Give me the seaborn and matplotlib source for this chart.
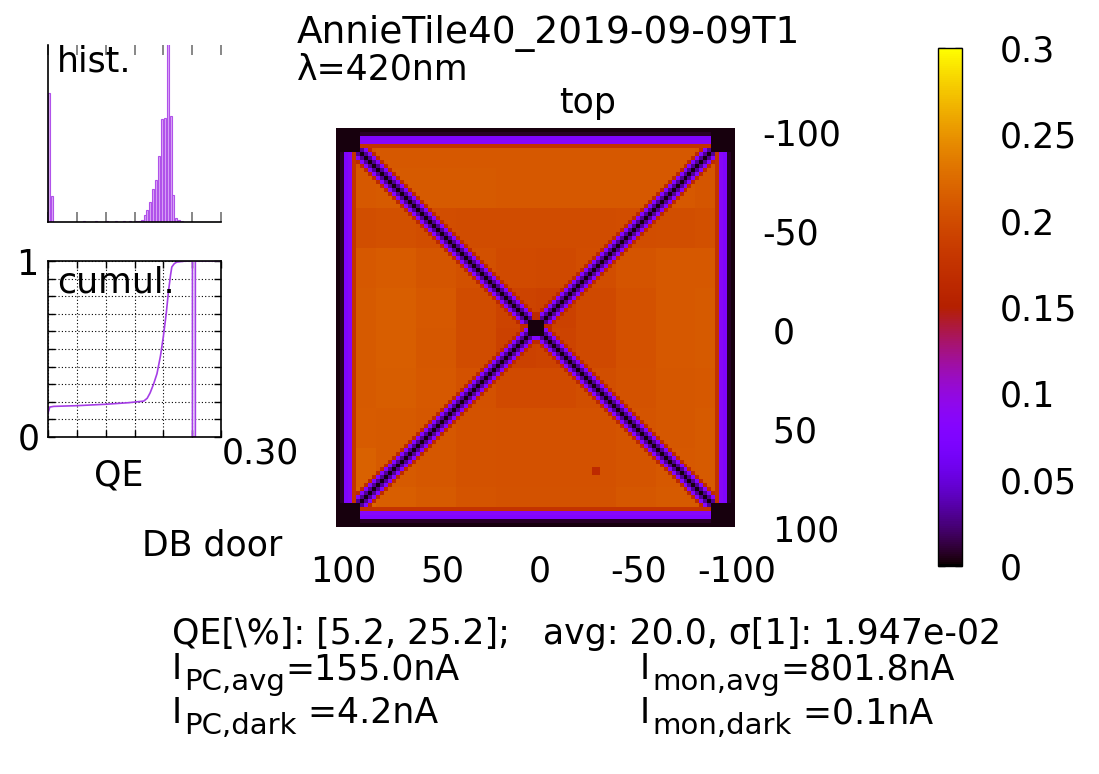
import matplotlib
matplotlib.use("Agg")
import matplotlib.pyplot as plt
import numpy as np
import pandas as pd
import seaborn as sns

sns.set_style("white")
plt.rcParams["font.family"] = ["DejaVu Sans"]
plt.rcParams["font.size"] = 25
plt.rcParams.update({"text.color": "black", "xtick.color": "black",
                     "ytick.color": "black", "axes.edgecolor": "black"})

# ---- values ----
title = "AnnieTile40_2019-09-09T1"
wavelength = "λ=420nm"

# scan area in mm, 100 x 100 cells, x runs from right (100) to left (-100)
n_cells = 100
x_left, x_right = 103.8, -99.2
y_top, y_bottom = -101.8, 99.7
x_ticks = [100, 50, 0, -50, -100]
y_ticks = [-100, -50, 0, 50, 100]

# coarse QE background, 10x10 blocks (top row first, left column first)
bg_grid = [
    [0.208, 0.210, 0.210, 0.210, 0.210, 0.210, 0.210, 0.210, 0.210, 0.208],
    [0.210, 0.212, 0.212, 0.212, 0.210, 0.210, 0.210, 0.210, 0.210, 0.208],
    [0.202, 0.203, 0.201, 0.200, 0.200, 0.200, 0.200, 0.201, 0.202, 0.203],
    [0.210, 0.213, 0.208, 0.203, 0.199, 0.198, 0.201, 0.207, 0.210, 0.210],
    [0.212, 0.215, 0.210, 0.200, 0.192, 0.190, 0.197, 0.205, 0.210, 0.211],
    [0.212, 0.215, 0.209, 0.200, 0.191, 0.192, 0.198, 0.205, 0.210, 0.211],
    [0.211, 0.214, 0.210, 0.204, 0.199, 0.199, 0.202, 0.206, 0.209, 0.210],
    [0.213, 0.212, 0.209, 0.206, 0.204, 0.204, 0.205, 0.207, 0.209, 0.211],
    [0.217, 0.212, 0.209, 0.206, 0.205, 0.204, 0.205, 0.207, 0.210, 0.212],
    [0.220, 0.215, 0.211, 0.207, 0.206, 0.206, 0.206, 0.209, 0.212, 0.212],
]
edge_profile = [0.003, 0.008, 0.075, 0.085, 0.175]           # frame, from the edge inwards
diag_profile = [0.165, 0.08, 0.03, 0.003, 0.03, 0.08, 0.165]  # across a diagonal, offsets -3..3
corner_size, corner_qe = 6, 0.003
centre_size, centre_qe = 4, 0.003
spot_rows, spot_cols, spot_qe = [85, 86], [64, 65], 0.165

# histogram (bin centres, heights)
hist_qe = [0.0025, 0.0075, 0.0625, 0.0825, 0.1025, 0.1175, 0.1325, 0.1425, 0.1525,
           0.1575, 0.1625, 0.1675, 0.1725, 0.1775, 0.1825, 0.1875, 0.1925, 0.1975,
           0.2025, 0.2075, 0.2125, 0.2175, 0.2225, 0.2275, 0.2325]
hist_n = [128, 26, 0.6, 0.6, 0.8, 0.6, 0.8, 0.8, 1.0,
          1.2, 1.7, 7, 11.7, 20.3, 32.7, 41.7, 66, 102,
          103.3, 250, 105.7, 26.7, 3.7, 2, 0.7]

# cumulative
cum_qe = [0.0, 0.003, 0.01, 0.05, 0.1, 0.14, 0.166, 0.172, 0.177, 0.183, 0.189, 0.195,
          0.2, 0.205, 0.209, 0.2125, 0.2147, 0.219, 0.2234, 0.24, 0.2505, 0.2505,
          0.2555, 0.2555, 0.3]
cum_frac = [0.135, 0.17, 0.174, 0.178, 0.186, 0.195, 0.204, 0.22, 0.25, 0.3, 0.36, 0.46,
            0.57, 0.7, 0.83, 0.92, 0.966, 0.985, 0.994, 1.0, 1.0, 0.0,
            0.0, 1.0, 1.0]

cbar_ticks = [0, 0.05, 0.1, 0.15, 0.2, 0.25, 0.3]
cbar_labels = ["0", "0.05", "0.1", "0.15", "0.2", "0.25", "0.3"]

stats_line = "QE[\\%]: [5.2, 25.2];   avg: 20.0, σ[1]: 1.947e-02"
currents = [
    (172, 679, "PC,avg", "=155.0nA"),
    (172, 723, "PC,dark", " =4.2nA"),
    (640, 679, "mon,avg", "=801.8nA"),
    (640, 723, "mon,dark", " =0.1nA"),
]

# ---- build the QE map ----
block = n_cells // len(bg_grid)
qe = np.kron(np.array(bg_grid), np.ones((block, block)))
rr, cc = np.indices(qe.shape)
half = len(diag_profile) // 2
for k, v in enumerate(diag_profile):
    off = k - half
    qe[cc - rr == off] = v
    qe[cc + rr - (n_cells - 1) == -off] = v
c0 = n_cells // 2 - centre_size // 2
qe[c0:c0 + centre_size, c0:c0 + centre_size] = centre_qe
dist = np.minimum.reduce([rr, cc, n_cells - 1 - rr, n_cells - 1 - cc])
for k, v in enumerate(edge_profile):
    qe[dist == k] = v
corner = ((rr < corner_size) | (rr >= n_cells - corner_size)) & \
         ((cc < corner_size) | (cc >= n_cells - corner_size))
qe[corner] = corner_qe
qe[np.ix_(spot_rows, spot_cols)] = spot_qe

hist_df = pd.DataFrame({"qe": hist_qe, "n": hist_n})

W, H = 1099, 774
def box(x0, y0, x1, y1):
    return [x0 / W, 1 - y1 / H, (x1 - x0) / W, (y1 - y0) / H]

fig = plt.figure(figsize=(W / 100, H / 100), dpi=100)

# ---- main map ----
ax = fig.add_axes(box(336, 128, 737, 528))
cax = fig.add_axes(box(938, 48, 962, 566))
sns.heatmap(qe, ax=ax, cmap="gnuplot", vmin=0, vmax=0.3, cbar_ax=cax,
            xticklabels=False, yticklabels=False, rasterized=True)
cw = (x_left - x_right) / n_cells
ch = (y_bottom - y_top) / n_cells
ax.set_xticks([(x_left - v) / cw for v in x_ticks])
ax.set_xticklabels([str(v) for v in x_ticks])
ax.yaxis.tick_right()
ax.set_yticks([(v - y_top) / ch for v in y_ticks])
ax.set_yticklabels([f"{v: d}" for v in y_ticks])
for lbl in ax.get_yticklabels():
    lbl.set_ha("left")
ax.tick_params(axis="x", length=0, pad=19)
ax.tick_params(axis="y", length=0, pad=18)

cb = ax.collections[0].colorbar
cb.outline.set_linewidth(1)
cb.outline.set_edgecolor("black")
cb.set_ticks(cbar_ticks)
cb.set_ticklabels(cbar_labels)
cax.tick_params(direction="in", length=5, width=1, color="0.15",
                left=True, right=True, pad=27)

# ---- histogram inset ----
ax1 = fig.add_axes(box(48, 45, 221, 222))
sns.histplot(data=hist_df, x="qe", weights="n", binwidth=0.005, binrange=(0, 0.3),
             shrink=0.7, color="#dba8f7", edgecolor="#b052ea", linewidth=0.8,
             alpha=1, ax=ax1)
ax1.set_xlim(0, 0.3)
ax1.set_ylim(0, 176)
ax1.set(xlabel="", ylabel="")
ax1.set_xticks(np.arange(0, 0.301, 0.05))
ax1.set_yticks([])
ax1.tick_params(axis="x", direction="in", length=7, width=1.2, color="0.45",
                top=True, bottom=True, labelbottom=False)
for s in ["top", "right"]:
    ax1.spines[s].set_visible(False)
for s in ["left", "bottom"]:
    ax1.spines[s].set_linewidth(1.2)
ax1.text(0.05, 0.905, "hist.", transform=ax1.transAxes, ha="left", va="center")

# ---- cumulative inset ----
ax2 = fig.add_axes(box(48, 261, 221, 437))
sns.lineplot(x=cum_qe, y=cum_frac, sort=False, estimator=None, color="#a53ee6",
             linewidth=1.2, ax=ax2)
ax2.set_xlim(0, 0.3)
ax2.set_ylim(0, 1)
ax2.set_xticks(np.arange(0, 0.301, 0.05))
ax2.set_yticks(np.arange(0, 1.001, 0.1))
ax2.grid(True, linestyle=(0, (1, 2)), color="black", linewidth=0.8)
ax2.tick_params(direction="in", length=5, width=1, top=True, right=True,
                left=True, bottom=True, labelbottom=False, labelleft=False)
for s in ax2.spines.values():
    s.set_linewidth(1.2)
ax2.text(0.05, 0.88, "cumul.", transform=ax2.transAxes, ha="left", va="center")

# ---- free text ----
def put(x, y, s, ha="left", size=25):
    return fig.text(x / W, 1 - y / H, s, ha=ha, va="baseline", fontsize=size)

put(297, 43, title, size=27)
put(297, 80, wavelength)
put(588, 113, "top", ha="center")
put(212, 555, "DB door", ha="center")
put(38, 275, "1", ha="right")
put(40, 449, "0", ha="right")
put(222, 464, "0.30")
put(119, 486, "QE", ha="center")
put(172, 644, stats_line)

renderer = fig.canvas.get_renderer()
for x, y, sub, rest in currents:
    t = put(x, y, "I")
    x_sub = t.get_window_extent(renderer).x1 + 2
    t = put(x_sub, y + 11, sub, size=21)
    x_rest = t.get_window_extent(renderer).x1
    put(x_rest, y, rest)

fig.savefig("out.png", dpi=100)
